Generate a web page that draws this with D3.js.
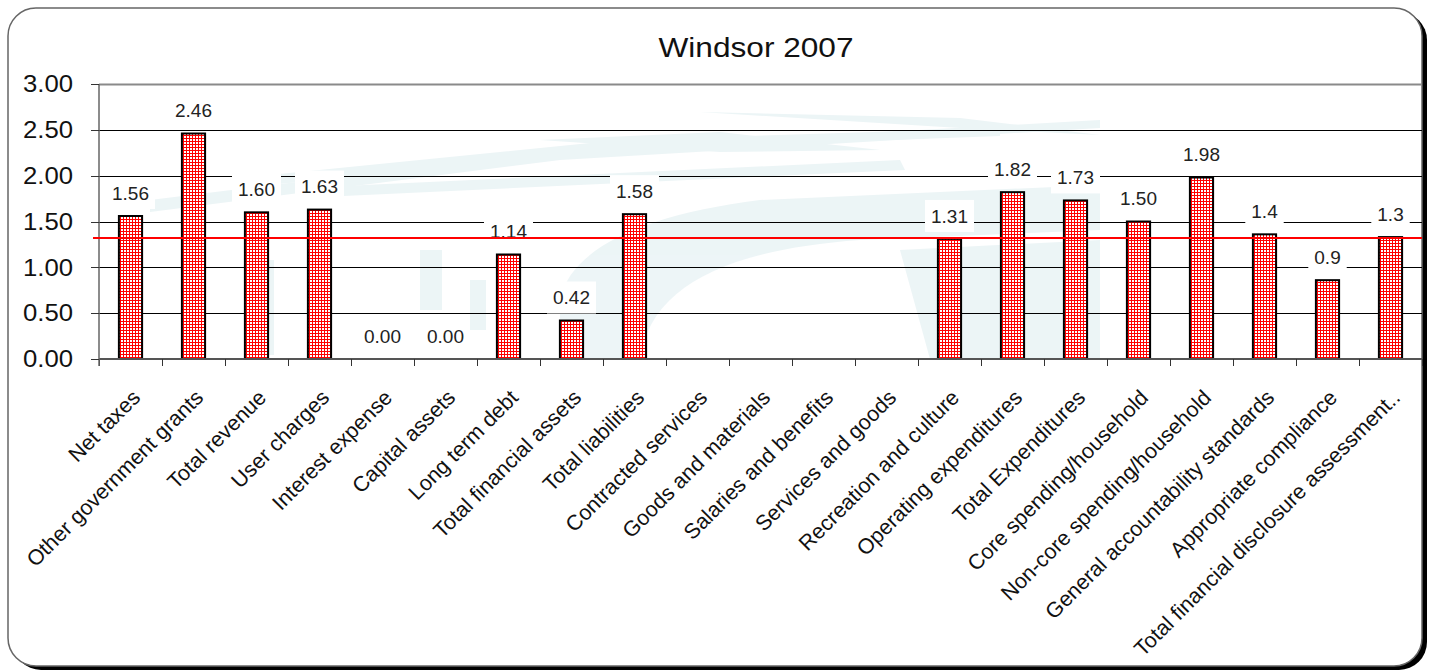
<!DOCTYPE html>
<html>
<head>
<meta charset="utf-8">
<script src="https://cdn.jsdelivr.net/npm/d3@7"></script>
<style>
  html, body { margin: 0; padding: 0; background: #fff; }
  svg { display: block; }
  text { font-family: "Liberation Sans", Arial, sans-serif; }
</style>
</head>
<body>
<svg id="chart" width="1430" height="672"></svg>
<script>
// ---------- data ----------
const titleText = "Windsor 2007";
const categories = [
  "Net taxes", "Other government grants", "Total revenue", "User charges",
  "Interest expense", "Capital assets", "Long term debt", "Total financial assets",
  "Total liabilities", "Contracted services", "Goods and materials",
  "Salaries and benefits", "Services and goods", "Recreation and culture",
  "Operating expenditures", "Total Expenditures", "Core spending/household",
  "Non-core spending/household", "General accountability standards",
  "Appropriate compliance", "Total financial disclosure assessment.."
];
const values = [1.56, 2.46, 1.60, 1.63, 0.00, 0.00, 1.14, 0.42, 1.58,
  null, null, null, null, 1.31, 1.82, 1.73, 1.50, 1.98, 1.36, 0.86, 1.33];
const valueLabels = ["1.56", "2.46", "1.60", "1.63", "0.00", "0.00", "1.14", "0.42", "1.58",
  null, null, null, null, "1.31", "1.82", "1.73", "1.50", "1.98", "1.4", "0.9", "1.3"];
const yTickValues = [0, 0.5, 1.0, 1.5, 2.0, 2.5, 3.0];
const averageValue = 1.32;

// ---------- layout ----------
const svg = d3.select("#chart");
const plot = { left: 99, right: 1422, top: 84, bottom: 359 };

const x = d3.scaleBand().domain(categories).range([plot.left, plot.right]).paddingInner(0).paddingOuter(0);
const y = d3.scaleLinear().domain([0, 3]).range([plot.bottom, plot.top]);

// pattern for bars
const defs = svg.append("defs");
const pat = defs.append("pattern").attr("id", "grid").attr("patternUnits", "userSpaceOnUse")
  .attr("width", 3).attr("height", 3);
pat.append("rect").attr("width", 3).attr("height", 3).attr("fill", "#ff0000");
pat.append("rect").attr("x", 1).attr("y", 1).attr("width", 2).attr("height", 2).attr("fill", "#ffffff");

// outer frame with shadow
const frame = { x: 8, y: 8, w: 1414, h: 658, r: 28 };
svg.append("rect").attr("x", frame.x + 5).attr("y", frame.y + 4).attr("width", frame.w).attr("height", frame.h)
  .attr("rx", frame.r).attr("fill", "#000");
svg.append("rect").attr("x", frame.x).attr("y", frame.y).attr("width", frame.w).attr("height", frame.h)
  .attr("rx", frame.r).attr("fill", "#fff").attr("stroke", "#666").attr("stroke-width", 1.5);

// faint watermark
const wm = svg.append("g").attr("fill", "#e3f0f2").attr("opacity", 0.65);
wm.append("path").attr("d", "M150,200 L560,150 L1100,120 L1100,128 L560,160 L150,212 Z");
wm.append("path").attr("d", "M240,178 L620,140 L1000,128 L1000,136 L620,150 L240,188 Z");
wm.append("path").attr("d", "M540,140 L720,132 L880,150 L720,152 Z");
wm.append("path").attr("d", "M700,112 L960,118 L1100,135 L960,128 Z");
wm.append("path").attr("d", "M300,188 L900,160 L905,170 L300,198 Z");
wm.append("path").attr("d", "M560,300 C570,250 640,215 760,200 L1100,185 L1100,230 L860,240 C720,250 650,290 640,359 L560,359 Z");
wm.append("path").attr("d", "M900,250 L1100,240 L1100,359 L930,359 Z");
wm.append("rect").attr("x", 120).attr("y", 255).attr("width", 16).attr("height", 95);
wm.append("rect").attr("x", 260).attr("y", 260).attr("width", 14).attr("height", 95);
wm.append("rect").attr("x", 420).attr("y", 250).attr("width", 22).attr("height", 60);
wm.append("rect").attr("x", 470).attr("y", 280).attr("width", 16).attr("height", 50);

// gridlines
svg.append("g").selectAll("line").data(yTickValues).join("line")
  .attr("x1", plot.left).attr("x2", plot.right)
  .attr("y1", d => Math.round(y(d)) + 0.5).attr("y2", d => Math.round(y(d)) + 0.5)
  .attr("stroke", d => d === 3 ? "#8a8a8a" : "#000")
  .attr("stroke-width", d => d === 3 ? 2 : 1);

// label boxes (white backgrounds hiding gridlines)
const labelData = categories.map((c, i) => ({ c, v: values[i], t: valueLabels[i] })).filter(d => d.v !== null);
const labelG = svg.append("g");
const labelItems = labelG.selectAll("g").data(labelData).join("g")
  .attr("transform", d => `translate(${x(d.c) + x.bandwidth() / 2},${y(d.v) - 23})`);
const boxes = labelItems.append("rect").attr("fill", "#fff");
const labelTexts = labelItems.append("text")
  .attr("text-anchor", "middle").attr("dy", "0.36em")
  .attr("font-size", 19).attr("fill", "#222")
  .text(d => d.t);
labelTexts.each(function () {
  const w = this.getComputedTextLength() + 12;
  d3.select(this.parentNode).select("rect")
    .attr("x", -w / 2).attr("y", -16).attr("width", w).attr("height", 32);
});

// bars
const bw = x.bandwidth() * 0.4;
svg.append("g").selectAll("rect").data(labelData).join("rect")
  .attr("x", d => x(d.c) + (x.bandwidth() - bw) / 2 + 1)
  .attr("y", d => y(d.v))
  .attr("width", bw - 2)
  .attr("height", d => y(0) - y(d.v))
  .attr("fill", "url(#grid)")
  .attr("stroke", "#000").attr("stroke-width", 2)
  .attr("display", d => d.v > 0 ? null : "none");

// x axis
const xAxis = svg.append("g").attr("transform", `translate(0,${plot.bottom})`);
xAxis.append("line").attr("x1", plot.left).attr("x2", plot.right).attr("y1", 0).attr("y2", 0)
  .attr("stroke", "#555").attr("stroke-width", 2);
const boundaries = categories.map(c => x(c)).concat([plot.right]);
xAxis.selectAll("line.tick").data(boundaries).join("line").attr("class", "tick")
  .attr("x1", d => Math.round(d) + 0.5).attr("x2", d => Math.round(d) + 0.5)
  .attr("y1", 0).attr("y2", 7).attr("stroke", "#333").attr("stroke-width", 1);
svg.append("g").selectAll("text").data(categories).join("text")
  .attr("transform", d => `translate(${x(d) + x.bandwidth() / 2 + 11},399) rotate(-45)`)
  .attr("text-anchor", "end").attr("font-size", 21.5).attr("fill", "#111")
  .text(d => d);

// y axis
const yAxis = svg.append("g");
yAxis.append("line").attr("x1", plot.left).attr("x2", plot.left).attr("y1", plot.top).attr("y2", plot.bottom + 7)
  .attr("stroke", "#666").attr("stroke-width", 1.5);
yAxis.selectAll("line.tick").data(yTickValues).join("line").attr("class", "tick")
  .attr("x1", 91).attr("x2", plot.left)
  .attr("y1", d => Math.round(y(d)) + 0.5).attr("y2", d => Math.round(y(d)) + 0.5)
  .attr("stroke", "#333");
yAxis.selectAll("text").data(yTickValues).join("text")
  .attr("x", 73).attr("y", d => y(d)).attr("dy", "0.36em")
  .attr("text-anchor", "end").attr("font-size", 23).attr("fill", "#111")
  .attr("textLength", 50).attr("lengthAdjust", "spacingAndGlyphs")
  .text(d => d3.format(".2f")(d));

// average line
svg.append("line")
  .attr("x1", 93).attr("x2", plot.right)
  .attr("y1", y(averageValue)).attr("y2", y(averageValue))
  .attr("stroke", "#ff0000").attr("stroke-width", 2);

// title
svg.append("text").attr("x", 756).attr("y", 57)
  .attr("text-anchor", "middle").attr("font-size", 27).attr("fill", "#111")
  .attr("textLength", 195).attr("lengthAdjust", "spacingAndGlyphs")
  .text(titleText);
</script>
</body>
</html>
